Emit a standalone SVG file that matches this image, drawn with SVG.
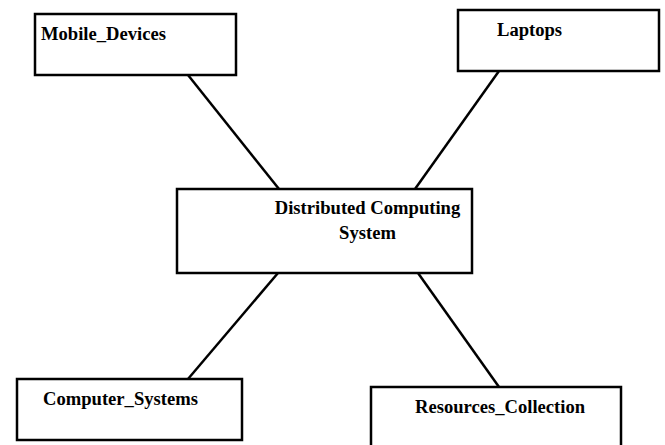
<svg xmlns="http://www.w3.org/2000/svg" width="665" height="445" viewBox="0 0 665 445">
<style>
.box{fill:#fff;stroke:#000;stroke-width:2.5}
.lbl{font-family:"Liberation Serif","Times New Roman",serif;font-weight:bold;font-size:18.6px;fill:#000}
.edge{stroke:#000;stroke-width:2.5;fill:none}
</style>
<rect width="665" height="445" fill="#fff"/>
<g id="connectors">
<line class="edge" x1="188" y1="75" x2="279" y2="189"/>
<line class="edge" x1="499" y1="71" x2="415" y2="189"/>
<line class="edge" x1="278" y1="273" x2="188" y2="379"/>
<line class="edge" x1="418" y1="273" x2="499" y2="387"/>
</g>
<g id="mobile_devices">
<rect class="box" x="35" y="14" width="201" height="61"/>
<text class="lbl" x="41" y="40">Mobile_Devices</text>
</g>
<g id="laptops">
<rect class="box" x="458" y="10" width="201" height="61"/>
<text class="lbl" x="497" y="36">Laptops</text>
</g>
<g id="distributed_computing_system">
<rect class="box" x="177" y="189" width="295" height="84"/>
<text class="lbl" x="367.5" y="214" text-anchor="middle">Distributed Computing</text>
<text class="lbl" x="367.5" y="239" text-anchor="middle">System</text>
</g>
<g id="computer_systems">
<rect class="box" x="17" y="379" width="225" height="61"/>
<text class="lbl" x="43" y="405">Computer_Systems</text>
</g>
<g id="resources_collection">
<rect class="box" x="371" y="387" width="250" height="70"/>
<text class="lbl" x="415" y="413">Resources_Collection</text>
</g>
</svg>
